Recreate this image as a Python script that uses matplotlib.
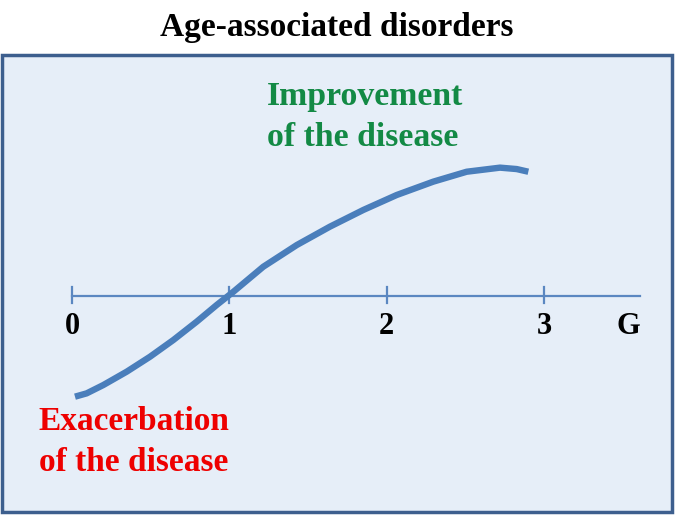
import matplotlib
matplotlib.use("Agg")
import matplotlib.pyplot as plt
from matplotlib.patches import Rectangle

# values (x in G units, y relative to the axis line)
tick_pos = [0, 1, 2, 3]
tick_labels = ["0", "1", "2", "3"]
axis_label = "G"
curve_g = [0.019, 0.093, 0.199, 0.348, 0.496, 0.644, 0.793, 0.920, 1.026,
           1.216, 1.429, 1.640, 1.852, 2.064, 2.297, 2.509, 2.721, 2.827,
           2.901]
curve_y = [-0.640, -0.619, -0.566, -0.481, -0.386, -0.280, -0.163, -0.057,
           0.027, 0.186, 0.324, 0.441, 0.547, 0.642, 0.727, 0.790, 0.816,
           0.807, 0.790]

title = "Age-associated disorders"
top_text = "Improvement\nof the disease"
bottom_text = "Exacerbation\nof the disease"

plt.rcParams["font.family"] = ["Liberation Serif", "DejaVu Serif"]

# pixel geometry of the picture
W, H = 675, 515
ppu = 157.3      # pixels per G unit
x0_px, y0_px = 72, 296


def px_x(p):
    return (p - x0_px) / ppu


def px_y(p):
    return (y0_px - p) / ppu


fig = plt.figure(figsize=(6.75, 5.15), dpi=100)
ax = fig.add_axes([0, 0, 1, 1])
ax.set_xlim(px_x(0), px_x(W))
ax.set_ylim(px_y(H), px_y(0))
ax.axis("off")

# framed panel
ax.add_patch(Rectangle((px_x(2), px_y(512)), 670 / ppu, 457 / ppu,
                       facecolor="#e6eef8", edgecolor="#3d5f8e", linewidth=2.5))

# axis line with ticks
ax.plot([px_x(72), px_x(640)], [0, 0], color="#5b87c1", lw=1.6)
for t, lab in zip(tick_pos, tick_labels):
    ax.plot([t, t], [9 / ppu, -7 / ppu], color="#5b87c1", lw=1.6)
    ax.text(t, px_y(327), lab, ha="center", va="center", fontsize=22,
            fontweight="bold", color="black")
ax.text(px_x(628), px_y(327), axis_label, ha="center", va="center",
        fontsize=22, fontweight="bold", color="black")

# curve
ax.plot(curve_g, curve_y, color="#4a7ebb", lw=4.6, solid_capstyle="butt",
        solid_joinstyle="round")

ax.text(px_x(337), px_y(36), title, ha="center", va="baseline", fontsize=24,
        fontweight="bold", color="black")
ax.text(px_x(267), px_y(117), top_text, ha="left", va="center", fontsize=24.3,
        fontweight="bold", color="#138a45", linespacing=1.4)
ax.text(px_x(134), px_y(442), bottom_text, ha="center", va="center",
        fontsize=24, fontweight="bold", color="#ee0000", linespacing=1.4)

fig.savefig("out.png", dpi=100)
